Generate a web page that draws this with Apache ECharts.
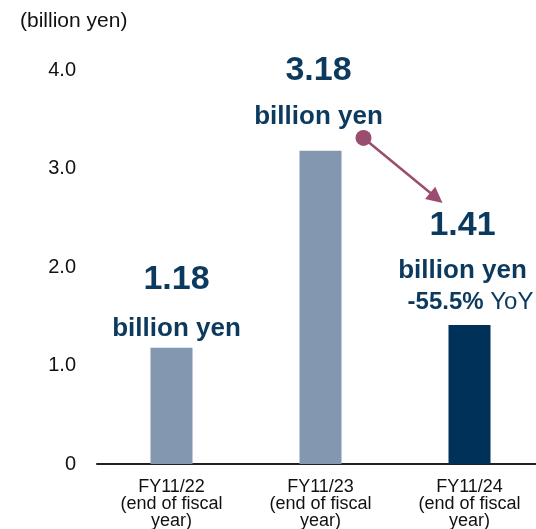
<!DOCTYPE html>
<html>
<head>
<meta charset="utf-8">
<script src="https://cdn.jsdelivr.net/npm/echarts@6/dist/echarts.min.js"></script>
<style>
html,body{margin:0;padding:0;background:#fff;}
#c{width:536px;height:529px;}
</style>
</head>
<body>
<div id="c"></div>
<script>
// ---- data ----
const categories = ['FY11/22\n(end of fiscal\nyear)', 'FY11/23\n(end of fiscal\nyear)', 'FY11/24\n(end of fiscal\nyear)'];
const values = [1.18, 3.18, 1.41];
const valueTexts = ['1.18', '3.18', '1.41'];
const unitText = 'billion yen';
const yoyText = ['-55.5%', 'YoY'];
const yTicks = [0, 1, 2, 3, 4];
const yUnit = '(billion yen)';
const arrowFrom = [1, 3.31];  // category index, value
const arrowTo = [2, 2.65];

// ---- styles ----
const light = '#8497b0';
const dark = '#003158';
const textNavy = '#0c3a5f';
const arrowColor = '#9b4d70';
const FONT = '"Liberation Sans", Arial, sans-serif';

const chart = echarts.init(document.getElementById('c'));

const richBase = {
  v: { fontSize: 34, fontWeight: 'bold', color: textNavy, fontFamily: FONT, lineHeight: 56 },
  u: { fontSize: 26, fontWeight: 'bold', color: textNavy, fontFamily: FONT, lineHeight: 42 },
  v2: { fontSize: 34, fontWeight: 'bold', color: textNavy, fontFamily: FONT, lineHeight: 50 },
  v3: { fontSize: 34, fontWeight: 'bold', color: textNavy, fontFamily: FONT, lineHeight: 50 },
  u3: { fontSize: 26, fontWeight: 'bold', color: textNavy, fontFamily: FONT, lineHeight: 40 },
  p: { fontSize: 24, fontWeight: 'bold', color: textNavy, fontFamily: FONT, lineHeight: 22, padding: [0, 0, 0, 16] },
  q: { fontSize: 24, fontWeight: 'normal', color: textNavy, fontFamily: FONT, lineHeight: 22 }
};

const labelCfg = [
  { distance: 0, offset: [5, 2], formatter: '{v|' + valueTexts[0] + '}\n{u|' + unitText + '}' },
  { distance: 14, offset: [-2, 1], formatter: '{v2|' + valueTexts[1] + '}\n{u|' + unitText + '}' },
  { distance: 12, offset: [-7, 0], formatter: '{v3|' + valueTexts[2] + '}\n{u3|' + unitText + '}\n{p|' + yoyText[0] + '}{q| ' + yoyText[1] + '}' }
];

const seriesData = values.map((v, i) => ({
  value: v,
  itemStyle: { color: i === 2 ? dark : light },
  label: {
    show: true,
    position: 'top',
    distance: labelCfg[i].distance,
    offset: labelCfg[i].offset,
    align: 'center',
    formatter: labelCfg[i].formatter,
    rich: richBase
  }
}));

chart.setOption({
  animation: false,
  backgroundColor: '#fff',
  title: {
    text: yUnit,
    left: 15,
    top: 6,
    textStyle: { fontSize: 21, fontWeight: 'normal', color: '#111', fontFamily: FONT }
  },
  grid: { left: 97, width: 447, top: 70, bottom: 65, containLabel: false, outerBoundsMode: 'none' },
  xAxis: {
    type: 'category',
    data: categories,
    axisLine: { show: true, lineStyle: { color: '#222', width: 2 } },
    axisTick: { show: false },
    axisLabel: { color: '#111', fontSize: 18, lineHeight: 17, margin: 15, fontFamily: FONT, interval: 0 }
  },
  yAxis: {
    type: 'value',
    min: yTicks[0],
    max: yTicks[yTicks.length - 1],
    interval: 1,
    axisLine: { show: false },
    axisTick: { show: false },
    splitLine: { show: false },
    axisLabel: {
      color: '#111', fontSize: 20, margin: 21, fontFamily: FONT,
      formatter: v => v === 0 ? '0' : v.toFixed(1)
    }
  },
  series: [{
    type: 'bar',
    barWidth: 42,
    data: seriesData
  }]
});

function drawArrow() {
  const c1 = chart.convertToPixel({ gridIndex: 0 }, arrowFrom);
  const c2 = chart.convertToPixel({ gridIndex: 0 }, arrowTo);
  const x1 = c1[0] + 43, y1 = c1[1];
  const x2 = c2[0] - 27, y2 = c2[1];
  const dx = x2 - x1, dy = y2 - y1;
  const len = Math.sqrt(dx * dx + dy * dy);
  const ux = dx / len, uy = dy / len;
  const headLen = 16, headW = 8;
  const bx = x2 - ux * headLen, by = y2 - uy * headLen;
  const px = -uy, py = ux;
  chart.setOption({
    graphic: [
      { type: 'line', shape: { x1: x1, y1: y1, x2: bx + ux * 2, y2: by + uy * 2 }, style: { stroke: arrowColor, lineWidth: 2.5 }, z: 10 },
      { type: 'polygon', shape: { points: [[x2, y2], [bx + px * headW, by + py * headW], [bx - px * headW, by - py * headW]] }, style: { fill: arrowColor }, z: 10 },
      { type: 'circle', shape: { cx: x1, cy: y1, r: 8 }, style: { fill: arrowColor }, z: 11 }
    ]
  });
}
drawArrow();
</script>
</body>
</html>
